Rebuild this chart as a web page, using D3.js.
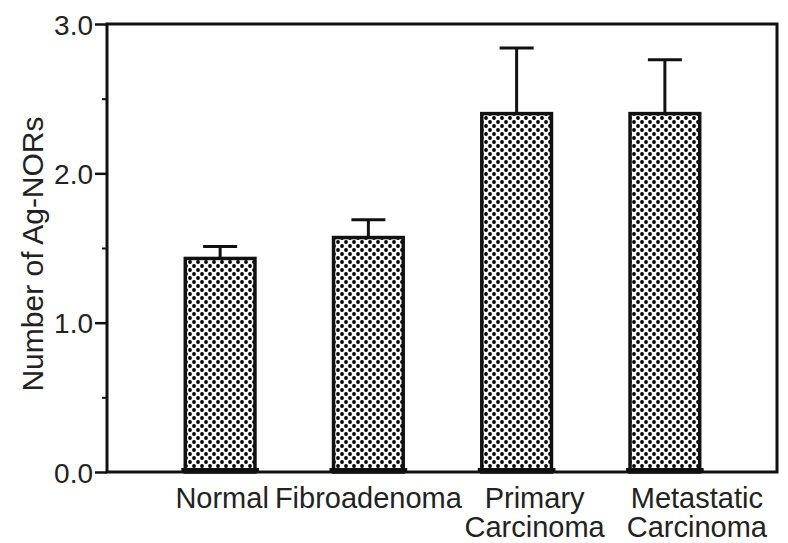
<!DOCTYPE html>
<html><head><meta charset="utf-8">
<script src="https://cdn.jsdelivr.net/npm/d3@7"></script>
<style>body{margin:0;background:#fff}svg{display:block}text{font-family:"Liberation Sans",Arial,sans-serif;fill:#222}</style>
</head><body><svg id="c" width="788" height="543"></svg>
<script>
const categories = ["Normal","Fibroadenoma","Primary Carcinoma","Metastatic Carcinoma"];
const labelLines = [["Normal"],["Fibroadenoma"],["Primary","Carcinoma"],["Metastatic","Carcinoma"]];
const means = [1.43, 1.57, 2.40, 2.40];
const errors = [0.08, 0.12, 0.44, 0.36];
const majorTicks = [0, 1, 2, 3];
const minorTicks = [0.5, 1.5, 2.5];
const yTitle = "Number of Ag-NORs";

const svg = d3.select("#c");
const L = 107, R = 777, T = 24, B = 472;
const x = d3.scaleBand().domain(categories).range([146, 739]).paddingInner(0.53).paddingOuter(0.265);
const y = d3.scaleLinear().domain([0, 3]).range([B, T]);

const defs = svg.append("defs");
const pat = defs.append("pattern").attr("id","dots").attr("patternUnits","userSpaceOnUse").attr("width",8).attr("height",8);
pat.append("rect").attr("width",8).attr("height",8).attr("fill","#fff");
pat.append("circle").attr("cx",2).attr("cy",2).attr("r",1.9).attr("fill","#000");
pat.append("circle").attr("cx",6).attr("cy",6).attr("r",1.9).attr("fill","#000");

// error bars
const eg = svg.append("g").attr("stroke","#111").attr("stroke-width",3);
categories.forEach((c,i)=>{
  const cx = x(c) + x.bandwidth()/2;
  eg.append("line").attr("x1",cx).attr("x2",cx).attr("y1",y(means[i])).attr("y2",y(means[i]+errors[i]));
  eg.append("line").attr("x1",cx-17).attr("x2",cx+17).attr("y1",y(means[i]+errors[i])).attr("y2",y(means[i]+errors[i]));
});

// bars
svg.append("g").selectAll("rect").data(categories).join("rect")
  .attr("x", d=>x(d)).attr("width", x.bandwidth())
  .attr("y", (d,i)=>y(means[i])).attr("height", (d,i)=>B - y(means[i]))
  .attr("fill","url(#dots)").attr("stroke","#111").attr("stroke-width",3.5);
// feet
svg.append("g").selectAll("line").data(categories).join("line")
  .attr("x1", d=>x(d)-4).attr("x2", d=>x(d)+x.bandwidth()+4)
  .attr("y1", B-2).attr("y2", B-2).attr("stroke","#111").attr("stroke-width",4);

// frame
svg.append("path").attr("d",`M${L},${B}L${L},${T}L${R},${T}L${R},${B}Z`)
  .attr("fill","none").attr("stroke","#111").attr("stroke-width",3);

// y axis
const yAxis = d3.axisLeft(y).tickValues(majorTicks).tickFormat(d3.format(".1f")).tickSize(12).tickPadding(2);
const ga = svg.append("g").attr("transform",`translate(${L},0)`).call(yAxis);
ga.select(".domain").remove();
ga.selectAll(".tick line").attr("stroke","#111").attr("stroke-width",2.5);
ga.selectAll(".tick text").style("font-size","28px").attr("fill","#222").attr("dy","0.36em");
const gm = svg.append("g").attr("transform",`translate(${L},0)`).call(d3.axisLeft(y).tickValues(minorTicks).tickSize(5).tickFormat(""));
gm.select(".domain").remove();
gm.selectAll(".tick line").attr("stroke","#111").attr("stroke-width",2);

svg.append("text").attr("transform","translate(43,254) rotate(-90)").attr("text-anchor","middle")
  .style("font-size","30px").text(yTitle);

// x labels
const dxs = [2, 0, 18, 32];
labelLines.forEach((lines,i)=>{
  const cx = x(categories[i]) + x.bandwidth()/2 + dxs[i];
  const t = svg.append("text").attr("x",cx).attr("y",508).attr("text-anchor","middle").style("font-size","29px");
  lines.forEach((ln,j)=>t.append("tspan").attr("x",cx).attr("dy", j===0?0:29).text(ln));
});
</script></body></html>
